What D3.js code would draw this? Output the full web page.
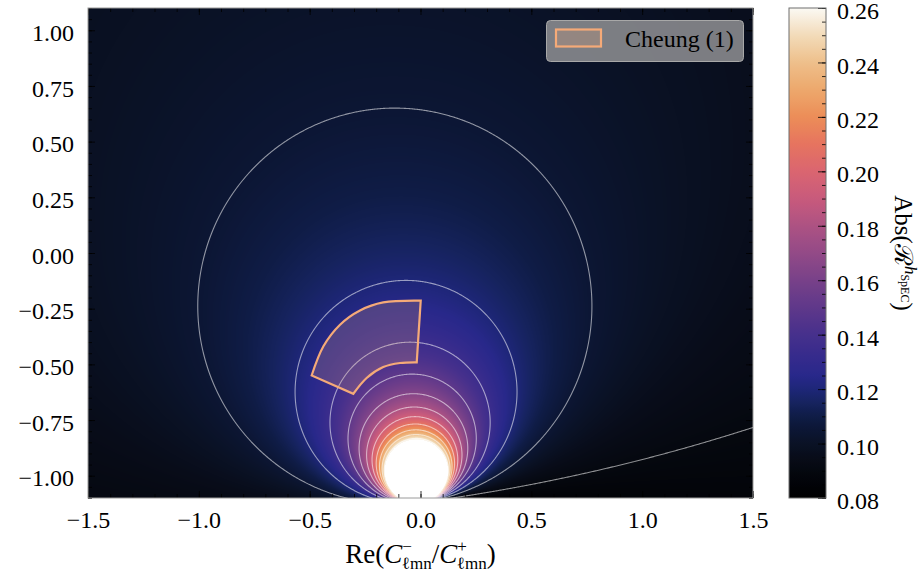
<!DOCTYPE html>
<html>
<head>
<meta charset="utf-8">
<script src="https://cdn.jsdelivr.net/npm/d3@7"></script>
<style>
body { margin: 0; background: #fff; }
svg { display: block; }
text { font-family: "Liberation Serif", "Times New Roman", serif; fill: #000; }
</style>
</head>
<body>
<svg id="chart" width="922" height="573"></svg>
<script>
// field |R|: contours are circles through one point below the axis
var polePoint = [0.0, -1.12];
var poleDir = [-0.13, 0.99];
var fieldBase = 0.0884;
var fieldRate = 0.306;

var contourLevels = [0.09, 0.105, 0.12, 0.135, 0.15, 0.165, 0.18, 0.195, 0.21, 0.225, 0.24, 0.255, 0.27, 0.285];

var cmapStops = [0.08, 0.085, 0.09, 0.095, 0.10, 0.105, 0.11, 0.115, 0.12, 0.125, 0.13, 0.14, 0.15, 0.16, 0.17, 0.18, 0.19, 0.20, 0.21, 0.22, 0.23, 0.24, 0.25, 0.26];
var cmapColors = ['#000000', '#020307', '#05080f', '#080c19', '#0a1226', '#0c1634', '#0f1c46', '#16235f', '#1e2678', '#28288a', '#322a8c', '#46308c', '#5f388a', '#784189', '#934a87', '#ad5283', '#c85a7c', '#da6570', '#e6745f', '#ec8d58', '#eda86c', '#eebf8b', '#f2dbb9', '#fbf9f4'];
var overColor = '#ffffff';

var xTicks = [-1.5, -1.0, -0.5, 0.0, 0.5, 1.0, 1.5];
var yTicks = [-1.0, -0.75, -0.5, -0.25, 0.0, 0.25, 0.5, 0.75, 1.0];
var cbTicks = [0.08, 0.10, 0.12, 0.14, 0.16, 0.18, 0.20, 0.22, 0.24, 0.26];

// Cheung (1) region boundary
var cheungOuter = [[-0.491, -0.550], [-0.438, -0.419], [-0.363, -0.322], [-0.273, -0.258], [-0.168, -0.222], [0.001, -0.214]];
var cheungInner = [[-0.017, -0.491], [-0.092, -0.494], [-0.168, -0.512], [-0.243, -0.561], [-0.303, -0.632]];

var plot = { x0: 88, x1: 753, y0: 8, y1: 498 };
var cbar = { x0: 789, x1: 826 };

var x = d3.scaleLinear().domain([-1.5, 1.5]).range([plot.x0, plot.x1]);
var y = d3.scaleLinear().domain([-1.1, 1.1]).range([plot.y1, plot.y0]);
var cy = d3.scaleLinear().domain([0.08, 0.26]).range([plot.y1, plot.y0]);

var color = d3.scaleLinear().domain(cmapStops).range(cmapColors)
	.interpolate(d3.interpolateRgb).clamp(true);

var dn = Math.hypot(poleDir[0], poleDir[1]);
function field(zx, zy) {
	var wx = zx - polePoint[0], wy = zy - polePoint[1];
	var r2 = wx * wx + wy * wy;
	var q = (wx * poleDir[0] + wy * poleDir[1]) / dn / Math.max(r2, 1e-9);
	return Math.min(fieldBase * Math.exp(fieldRate * Math.min(q, 40)), 1);
}

var svg = d3.select('#chart');

svg.append('defs').append('clipPath').attr('id', 'plotClip')
	.append('rect')
	.attr('x', plot.x0).attr('y', plot.y0)
	.attr('width', plot.x1 - plot.x0).attr('height', plot.y1 - plot.y0);

// heatmap
var W = plot.x1 - plot.x0, H = plot.y1 - plot.y0;
var lut = d3.range(1024).map(function(i) {
	return d3.rgb(color(0.08 + 0.18 * i / 1023));
});
var over = d3.rgb(overColor);
var canvas = document.createElement('canvas');
canvas.width = W; canvas.height = H;
var ctx = canvas.getContext('2d');
var img = ctx.createImageData(W, H);
for (var j = 0; j < H; j++) {
	var zy = y.invert(plot.y0 + j + 0.5);
	for (var i = 0; i < W; i++) {
		var v = field(x.invert(plot.x0 + i + 0.5), zy);
		var c = v > 0.26 ? over : lut[Math.max(0, Math.min(1023, Math.round((v - 0.08) / 0.18 * 1023)))];
		var k = 4 * (j * W + i);
		img.data[k] = c.r; img.data[k + 1] = c.g; img.data[k + 2] = c.b; img.data[k + 3] = 255;
	}
}
ctx.putImageData(img, 0, 0);
svg.append('image')
	.attr('x', plot.x0).attr('y', plot.y0)
	.attr('width', W).attr('height', H)
	.attr('href', canvas.toDataURL());

// contour lines on a slightly larger grid, clipped to the axes
var M = 3;
var gw = W + 2 * M, gh = H + 2 * M;
var grid = new Float64Array(gw * gh);
for (var gj = 0; gj < gh; gj++) {
	var gy = y.invert(plot.y0 - M + gj + 0.5);
	for (var gi = 0; gi < gw; gi++) {
		grid[gj * gw + gi] = field(x.invert(plot.x0 - M + gi + 0.5), gy);
	}
}
var contours = d3.contours().size([gw, gh]).smooth(true).thresholds(contourLevels)(grid);
svg.append('g')
	.attr('clip-path', 'url(#plotClip)')
	.append('g')
	.attr('transform', 'translate(' + (plot.x0 - M) + ',' + (plot.y0 - M) + ')')
	.selectAll('path')
	.data(contours)
	.enter()
	.append('path')
	.attr('d', d3.geoPath())
	.attr('fill', 'none')
	.attr('stroke', 'rgba(255,255,255,0.55)')
	.attr('stroke-width', 1.1);

// Cheung region
var curve = d3.line()
	.x(function(d) { return x(d[0]); })
	.y(function(d) { return y(d[1]); })
	.curve(d3.curveCatmullRom);
var regionPath = curve(cheungOuter) + curve(cheungInner).replace(/^M/, 'L') + 'Z';
svg.append('path')
	.attr('d', regionPath)
	.attr('fill', 'rgba(243,168,118,0.2)')
	.attr('stroke', '#f5aa78')
	.attr('stroke-width', 2.2)
	.attr('stroke-linejoin', 'miter');

// axes ticks, inward on all sides
function styleAxis(g) {
	g.select('.domain').remove();
	g.selectAll('line').attr('stroke', '#000').attr('stroke-width', 0.8);
	g.selectAll('text').attr('font-size', 24).attr('font-family', '"Liberation Serif", serif').attr('fill', '#000');
}
var xMinor = d3.range(-15, 16).map(function(d) { return d / 10; });
var yMinor = d3.range(-22, 23).map(function(d) { return d / 20; });

svg.append('g').attr('transform', 'translate(0,' + plot.y1 + ')')
	.call(d3.axisBottom(x).tickValues(xMinor).tickSize(-4).tickFormat('')).call(styleAxis);
svg.append('g').attr('transform', 'translate(0,' + plot.y1 + ')')
	.call(d3.axisBottom(x).tickValues(xTicks).tickSize(-7).tickPadding(13).tickFormat(d3.format('.1f'))).call(styleAxis);
svg.append('g').attr('transform', 'translate(0,' + plot.y0 + ')')
	.call(d3.axisTop(x).tickValues(xMinor).tickSize(-4).tickFormat('')).call(styleAxis);
svg.append('g').attr('transform', 'translate(0,' + plot.y0 + ')')
	.call(d3.axisTop(x).tickValues(xTicks).tickSize(-7).tickFormat('')).call(styleAxis);

svg.append('g').attr('transform', 'translate(' + plot.x0 + ',0)')
	.call(d3.axisLeft(y).tickValues(yMinor).tickSize(-4).tickFormat('')).call(styleAxis);
var yAxis = svg.append('g').attr('transform', 'translate(' + plot.x0 + ',0)')
	.call(d3.axisLeft(y).tickValues(yTicks).tickSize(-7).tickPadding(14).tickFormat(d3.format('.2f'))).call(styleAxis);
yAxis.selectAll('text').attr('dy', '0.42em');
svg.append('g').attr('transform', 'translate(' + plot.x1 + ',0)')
	.call(d3.axisRight(y).tickValues(yMinor).tickSize(-4).tickFormat('')).call(styleAxis);
svg.append('g').attr('transform', 'translate(' + plot.x1 + ',0)')
	.call(d3.axisRight(y).tickValues(yTicks).tickSize(-7).tickFormat('')).call(styleAxis);

svg.append('rect')
	.attr('x', plot.x0).attr('y', plot.y0)
	.attr('width', W).attr('height', H)
	.attr('fill', 'none').attr('stroke', '#9a9a9a').attr('stroke-width', 1);

// x label
var xl = svg.append('text')
	.attr('x', (plot.x0 + plot.x1) / 2).attr('y', 563)
	.attr('text-anchor', 'middle').attr('font-size', 27);
xl.append('tspan').text('Re(');
xl.append('tspan').attr('font-style', 'italic').text('C');
xl.append('tspan').attr('font-size', 17).attr('dy', -11).text('\u2212');
xl.append('tspan').attr('font-size', 17).attr('dx', -10).attr('dy', 17).text('\u2113mn');
xl.append('tspan').attr('dy', -6).text('/');
xl.append('tspan').attr('font-style', 'italic').text('C');
xl.append('tspan').attr('font-size', 17).attr('dy', -11).text('+');
xl.append('tspan').attr('font-size', 17).attr('dx', -10).attr('dy', 17).text('\u2113mn');
xl.append('tspan').attr('dy', -6).text(')');

// colorbar
var grad = svg.select('defs').append('linearGradient')
	.attr('id', 'cbGrad').attr('x1', 0).attr('y1', 1).attr('x2', 0).attr('y2', 0);
grad.selectAll('stop')
	.data(d3.range(0, 101))
	.enter()
	.append('stop')
	.attr('offset', function(d) { return d + '%'; })
	.attr('stop-color', function(d) { return color(0.08 + 0.18 * d / 100); });
svg.append('rect')
	.attr('x', cbar.x0).attr('y', plot.y0)
	.attr('width', cbar.x1 - cbar.x0).attr('height', H)
	.attr('fill', 'url(#cbGrad)');
var cbMinor = d3.range(16, 53).map(function(d) { return d * 0.005; });
svg.append('g').attr('transform', 'translate(' + cbar.x1 + ',0)')
	.call(d3.axisRight(cy).tickValues(cbMinor).tickSize(-4).tickFormat('')).call(styleAxis);
svg.append('g').attr('transform', 'translate(' + cbar.x1 + ',0)')
	.call(d3.axisRight(cy).tickValues(cbTicks).tickSize(-8).tickPadding(11).tickFormat(d3.format('.2f'))).call(styleAxis)
	.selectAll('text').attr('dy', '0.44em');
svg.append('rect')
	.attr('x', cbar.x0).attr('y', plot.y0)
	.attr('width', cbar.x1 - cbar.x0).attr('height', H)
	.attr('fill', 'none').attr('stroke', '#6f6f6f').attr('stroke-width', 1);

var cl = svg.append('text')
	.attr('transform', 'translate(895,253) rotate(90)')
	.attr('text-anchor', 'middle').attr('font-size', 25);
cl.append('tspan').text('Abs(');
cl.append('tspan').text('\u211B');
cl.append('tspan').attr('font-size', 17).attr('font-style', 'italic').attr('dy', -10).text('h');
cl.append('tspan').attr('font-size', 12).attr('dy', 4).text('SpEC');
cl.append('tspan').attr('dy', 6).text(')');

// legend
var lg = svg.append('g');
lg.append('rect')
	.attr('x', 546.5).attr('y', 20.5).attr('width', 197).attr('height', 41).attr('rx', 4)
	.attr('fill', 'rgba(150,150,152,0.82)').attr('stroke', '#a8a8a8').attr('stroke-width', 1);
lg.append('rect')
	.attr('x', 556).attr('y', 29.5).attr('width', 45).attr('height', 17)
	.attr('fill', 'rgba(243,168,118,0.2)').attr('stroke', '#f5aa78').attr('stroke-width', 2.2);
lg.append('text')
	.attr('x', 625).attr('y', 47).attr('font-size', 24)
	.text('Cheung (1)');
</script>
</body>
</html>
